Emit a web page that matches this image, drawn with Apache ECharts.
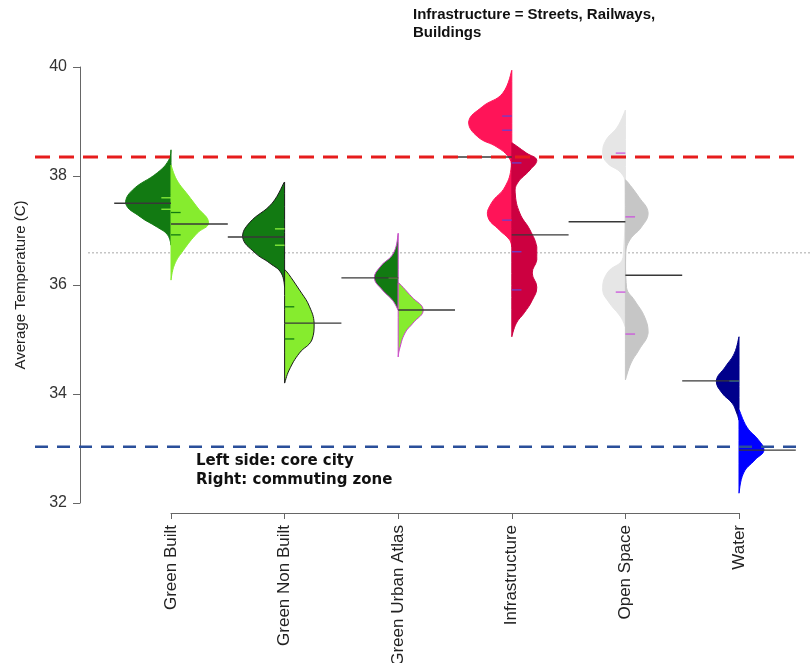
<!DOCTYPE html>
<html>
<head>
<meta charset="utf-8">
<script src="https://cdn.jsdelivr.net/npm/echarts@6/dist/echarts.min.js"></script>
<style>
  html, body { margin: 0; padding: 0; background: #fff; }
  #chart { width: 811px; height: 663px; }
</style>
</head>
<body>
<div id="chart"></div>
<script>
var categories = ['Green Built', 'Green Non Built', 'Green Urban Atlas', 'Infrastructure', 'Open Space', 'Water'];

// bean outlines: [temperature, half width in category units]
// core city = left half, commuting zone = right half
var greenBuiltCore = [[38.48,0],[38.29,0.02],[38.06,0.12],[37.74,0.34],[37.50,0.40],[37.25,0.27],[37.06,0.12],[36.92,0.03],[36.73,0]];
var greenBuiltCommute = [[38.20,0],[37.93,0.05],[37.65,0.15],[37.43,0.23],[37.14,0.33],[36.95,0.23],[36.64,0.11],[36.37,0.03],[36.09,0]];
var greenNonBuiltCore = [[37.89,0],[37.50,0.11],[37.14,0.31],[36.88,0.37],[36.59,0.26],[36.40,0.13],[36.22,0.03],[35.96,0]];
var greenNonBuiltCommute = [[36.28,0],[35.85,0.15],[35.60,0.22],[35.30,0.26],[34.99,0.24],[34.75,0.13],[34.44,0.04],[34.20,0]];
var urbanAtlasCore = [[36.95,0],[36.59,0.04],[36.33,0.16],[36.13,0.21],[35.91,0.14],[35.72,0.05],[35.54,0]];
var urbanAtlasCommute = [[36.04,0],[35.78,0.12],[35.54,0.22],[35.30,0.13],[35.12,0.06],[34.81,0.01],[34.68,0]];
var infraCore = [[39.94,0],[39.52,0.08],[39.27,0.26],[38.99,0.38],[38.72,0.30],[38.53,0.13],[38.35,0.03],[38.17,0.005],[37.80,0.06],[37.50,0.18],[37.25,0.21],[37.01,0.11],[36.83,0.02],[36.70,0]];
var infraCommute = [[38.61,0],[38.42,0.13],[38.29,0.22],[38.11,0.16],[37.87,0.05],[37.69,0.03],[37.32,0.07],[37.01,0.16],[36.70,0.22],[36.46,0.22],[36.22,0.18],[35.96,0.22],[35.72,0.18],[35.49,0.11],[35.30,0.04],[35.05,0]];
var openSpaceCore = [[39.21,0],[38.90,0.07],[38.66,0.17],[38.42,0.20],[38.24,0.16],[38.06,0.04],[37.87,0.003],[36.51,0.02],[36.22,0.16],[35.91,0.20],[35.67,0.14],[35.41,0.04],[35.23,0]];
var openSpaceCommute = [[37.93,0],[37.61,0.12],[37.32,0.20],[37.06,0.14],[36.83,0.04],[36.59,0.003],[35.95,0.01],[35.72,0.08],[35.41,0.17],[35.12,0.20],[34.81,0.12],[34.57,0.05],[34.26,0]];
var waterCore = [[35.05,0],[34.75,0.04],[34.50,0.12],[34.24,0.20],[34.02,0.15],[33.83,0.06],[33.65,0.02],[33.52,0]];
var waterCommute = [[33.71,0],[33.39,0.07],[33.16,0.17],[32.97,0.22],[32.79,0.14],[32.55,0.04],[32.18,0]];

// bean averages
var coreMeans = [37.50, 36.88, 36.13, 38.35, 37.16, 34.24];
var commuteMeans = [37.12, 35.30, 35.54, 36.92, 36.18, 32.97];

// short bean lines
var coreBeans = [[37.60, 37.39], [37.03, 36.73], [36.13], [39.10, 38.84, 37.19], [38.42, 35.87], [34.24]];
var commuteBeans = [[37.33, 36.92], [35.60, 35.01], [], [38.24, 36.61, 35.91], [37.25, 35.10], []];

// reference lines: core city, commuting zone, overall
var refValues = [38.35, 33.03, 36.59];

var coreColors = ['#127a12', '#127a12', '#127a12', '#ff1458', '#e6e6e6', '#00008b'];
var commuteColors = ['#86ec2e', '#86ec2e', '#86ec2e', '#cc0040', '#c6c6c6', '#0000ff'];
var outlineColors = [null, '#1a1a1a', '#cc44cc', null, null, null];
var coreBeanColors = ['#8cf03c', '#8cf03c', '#8cf03c', '#6a3fd0', '#cc55dd', '#33bbff'];
var commuteBeanColors = ['#127a12', '#127a12', '#127a12', '#6a3fd0', '#cc55dd', '#33bbff'];

var coreHalves = [greenBuiltCore, greenNonBuiltCore, urbanAtlasCore, infraCore, openSpaceCore, waterCore];
var commuteHalves = [greenBuiltCommute, greenNonBuiltCommute, urbanAtlasCommute, infraCommute, openSpaceCommute, waterCommute];

var halfData = [];
for (var i = 0; i < categories.length; i++) {
  halfData.push([i, -1]);
  halfData.push([i, 1]);
}

var chart = echarts.init(document.getElementById('chart'));

function renderHalf(params, api) {
  var idx = api.value(0);
  var side = api.value(1);
  var dens = side < 0 ? coreHalves[idx] : commuteHalves[idx];
  var band = api.size([1, 0])[0];
  var cx = api.coord([idx, 36])[0];
  var pts = dens.map(function (p) {
    return [cx + side * p[1] * band, api.coord([idx, p[0]])[1]];
  });
  var fill = side < 0 ? coreColors[idx] : commuteColors[idx];
  var stroke = outlineColors[idx] || fill;
  return {
    type: 'polygon',
    shape: { points: pts, smooth: 0.45, smoothConstraint: [pts[0], pts[0]] },
    style: { fill: fill, stroke: stroke, lineWidth: 1 }
  };
}

function renderMarks(params, api) {
  var idx = api.value(0);
  var band = api.size([1, 0])[0];
  var cx = api.coord([idx, 36])[0];
  var kids = [];
  var sides = [
    { s: -1, beans: coreBeans[idx], col: coreBeanColors[idx], mean: coreMeans[idx] },
    { s: 1, beans: commuteBeans[idx], col: commuteBeanColors[idx], mean: commuteMeans[idx] }
  ];
  sides.forEach(function (d) {
    d.beans.forEach(function (b) {
      var y = api.coord([idx, b])[1];
      kids.push({
        type: 'line',
        shape: { x1: cx, y1: y, x2: cx + d.s * 0.085 * band, y2: y },
        style: { stroke: d.col, lineWidth: 1.3 }
      });
    });
    var ym = api.coord([idx, d.mean])[1];
    kids.push({
      type: 'line',
      shape: { x1: cx, y1: ym, x2: cx + d.s * 0.5 * band, y2: ym },
      style: { stroke: '#383838', lineWidth: 1.4 }
    });
  });
  return { type: 'group', children: kids };
}

var refStyles = [
  { stroke: '#e61c1c', lineWidth: 3, lineDash: [15, 9], x1: 35, x2: 800 },
  { stroke: '#2a4f9a', lineWidth: 2.5, lineDash: [13, 9], x1: 35, x2: 800 },
  { stroke: '#a8a8a8', lineWidth: 1, lineDash: [2, 2], x1: 88, x2: 811 }
];

function renderRef(params, api) {
  var y = api.coord([0, api.value(0)])[1];
  var st = refStyles[api.value(1)];
  return {
    type: 'line',
    shape: { x1: st.x1, y1: y, x2: st.x2, y2: y },
    style: { stroke: st.stroke, lineWidth: st.lineWidth, lineDash: st.lineDash }
  };
}

var option = {
  backgroundColor: '#fff',
  animation: false,
  grid: { left: 171, right: 72, top: 67, bottom: 160, outerBoundsMode: 'none', containLabel: false },
  xAxis: {
    type: 'category',
    data: categories,
    boundaryGap: false,
    offset: 10,
    axisLine: { lineStyle: { color: '#666', width: 1 } },
    axisTick: { length: 6, lineStyle: { color: '#666' } },
    axisLabel: {
      rotate: 90, margin: 12, interval: 0,
      fontFamily: 'Liberation Sans', fontSize: 17, color: '#222'
    },
    splitLine: { show: false }
  },
  yAxis: {
    type: 'value',
    min: 32, max: 40, interval: 2,
    offset: 91,
    name: 'Average Temperature (C)',
    nameLocation: 'middle',
    nameGap: 52,
    nameTextStyle: { fontFamily: 'Liberation Sans', fontSize: 15, color: '#222' },
    axisLine: { show: true, lineStyle: { color: '#666', width: 1 } },
    axisTick: { show: true, length: 7, lineStyle: { color: '#666' } },
    axisLabel: { fontFamily: 'Liberation Sans', fontSize: 16, color: '#333', margin: 13 },
    splitLine: { show: false }
  },
  graphic: [
    {
      type: 'text', left: 413, top: 6,
      style: {
        text: 'Infrastructure = Streets, Railways,\nBuildings',
        font: 'bold 15px "Liberation Sans"', fill: '#111', lineHeight: 18
      }
    },
    {
      type: 'text', left: 196, top: 452,
      style: {
        text: 'Left side: core city\nRight: commuting zone',
        font: 'bold 15px "DejaVu Sans"', fill: '#111', lineHeight: 19
      }
    }
  ],
  series: [
    {
      type: 'custom', name: 'overall', z: 1, clip: false,
      renderItem: renderRef,
      data: [[refValues[2], 2]],
      encode: { y: 0 }
    },
    {
      type: 'custom', name: 'beans', z: 2, clip: false,
      renderItem: renderHalf,
      data: halfData,
      encode: { x: 0 }
    },
    {
      type: 'custom', name: 'marks', z: 3, clip: false,
      renderItem: renderMarks,
      data: categories.map(function (c, i) { return [i]; }),
      encode: { x: 0 }
    },
    {
      type: 'custom', name: 'refs', z: 4, clip: false,
      renderItem: renderRef,
      data: [[refValues[0], 0], [refValues[1], 1]],
      encode: { y: 0 }
    }
  ]
};

chart.setOption(option);
</script>
</body>
</html>
